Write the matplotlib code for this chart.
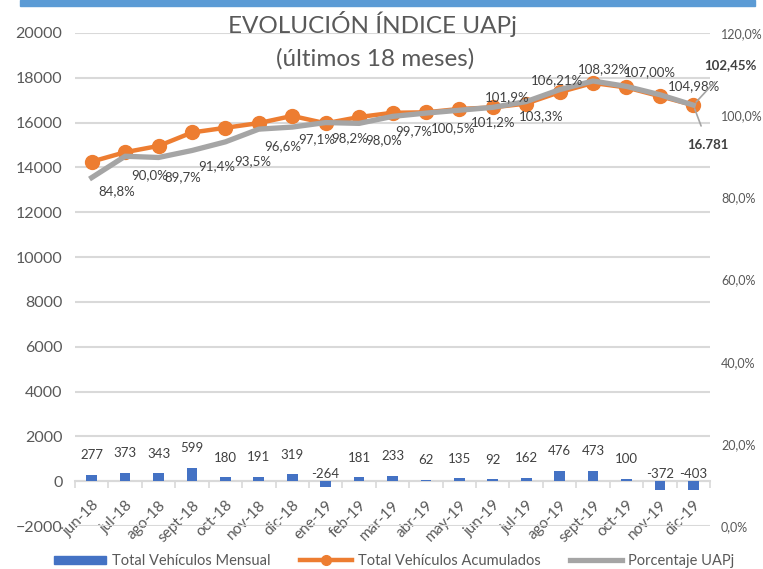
import matplotlib
matplotlib.use('Agg')
import matplotlib.pyplot as plt
from matplotlib.patches import Rectangle
from matplotlib.lines import Line2D
from matplotlib.ticker import FuncFormatter, FixedLocator

plt.rcParams['font.family'] = ['Lato', 'DejaVu Sans']

# Data
months = ['jun-18', 'jul-18', 'ago-18', 'sept-18', 'oct-18', 'nov-18', 'dic-18',
          'ene-19', 'feb-19', 'mar-19', 'abr-19', 'may-19', 'jun-19', 'jul-19',
          'ago-19', 'sept-19', 'oct-19', 'nov-19', 'dic-19']
monthly = [277, 373, 343, 599, 180, 191, 319, -264, 181, 233, 62, 135, 92, 162,
           476, 473, 100, -372, -403]
cumulative = [14260, 14680, 14960, 15560, 15770, 15980, 16300, 15970, 16250,
              16440, 16460, 16610, 16680, 16850, 17360, 17770, 17570, 17180, 16781]
pct = [84.8, 90.0, 89.7, 91.4, 93.5, 96.6, 97.1, 98.2, 98.0, 99.7, 100.5, 101.2,
       101.9, 103.3, 106.21, 108.32, 107.00, 104.98, 102.45]
pct_labels = ['84,8%', '90,0%', '89,7%', '91,4%', '93,5%', '96,6%', '97,1%', '98,2%',
              '98,0%', '99,7%', '100,5%', '101,2%', '101,9%', '103,3%', '106,21%',
              '108,32%', '107,00%', '104,98%', '102,45%']

# label offsets in pixels (dx right, dy down) for the percentage labels
pct_offsets = [(25, 14), (24, 19), (24, 20), (25, 16), (27, 19), (24, 17), (24, 12),
               (24, 16), (25, 17), (21, 15), (27, 15), (34, 12), (14, -10), (15, 15),
               (-3, -9), (11, -12), (23, -14), (34, -9), (37, -40)]

BLUE = '#4472C4'
ORANGE = '#ED7D31'
GRAY = '#A5A5A5'
TXT = '#595959'
GRID = '#D9D9D9'
PX = 0.72  # points per pixel at dpi 100

fig = plt.figure(figsize=(7.63, 5.69), dpi=100)
ax = fig.add_axes([75 / 763, 1 - 526 / 569, 635 / 763, 493 / 569])
ax2 = ax.twinx()

x = list(range(len(months)))

ax.bar(x, monthly, width=0.32, color=BLUE, zorder=3)
ax.plot(x, cumulative, color=ORANGE, lw=3.2, marker='o', ms=10, zorder=4)
ax2.plot(x, [p / 100 for p in pct], color=GRAY, lw=3.8, zorder=5)

ax.set_xlim(-0.5, len(months) - 0.5)
ax.set_ylim(-2000, 20000)
ax.set_yticks(range(-2000, 20001, 2000))
ax2.set_ylim(0, 1.2)
ax2.set_yticks([0, 0.2, 0.4, 0.6, 0.8, 1.0, 1.2])
ax2.yaxis.set_major_formatter(FuncFormatter(lambda v, p: f'{v * 100:.1f}%'.replace('.', ',')))

ax.grid(axis='y', color=GRID, lw=1.5, zorder=0)
for a in (ax, ax2):
    for s in ('top', 'left', 'right', 'bottom'):
        a.spines[s].set_visible(False)
ax.spines['bottom'].set_visible(True)
ax.spines['bottom'].set_position(('data', 0))
ax.spines['bottom'].set_color(GRID)
ax.spines['bottom'].set_linewidth(1.5)

ax.tick_params(axis='y', length=0, labelsize=11.5, labelcolor=TXT, pad=9)
ax2.tick_params(axis='y', length=0, labelsize=9, labelcolor=TXT, pad=8)

ax.set_xticks(x)
ax.set_xticklabels(months, rotation=45, ha='right', rotation_mode='anchor')
ax.tick_params(axis='x', which='major', length=0, labelsize=11, labelcolor=TXT, pad=12)
ax.xaxis.set_minor_locator(FixedLocator([i - 0.5 for i in range(len(months) + 1)]))
ax.tick_params(axis='x', which='minor', length=5, width=1.2, color=GRID)

# bar labels
for i, v in enumerate(monthly):
    if v >= 0:
        ax.annotate(str(v), (i, v), xytext=(0, 19.5 * PX), textcoords='offset points',
                    ha='center', va='center', fontsize=9.5, color='#404040', zorder=6)
    else:
        ax.annotate(str(v), (i, 0), xytext=(0, 7 * PX), textcoords='offset points',
                    ha='center', va='center', fontsize=9.5, color='#404040', zorder=6)

# percentage labels
for i, (p, lab) in enumerate(zip(pct, pct_labels)):
    dx, dy = pct_offsets[i]
    last = i == len(pct) - 1
    ax2.annotate(lab, (i, p / 100), xytext=(dx * PX, -dy * PX), textcoords='offset points',
                 ha='center', va='center', fontsize=9.5,
                 color='#404040', fontweight='bold' if last else 'normal', zorder=7,
                 arrowprops=dict(arrowstyle='-', color=GRAY, lw=1.2, shrinkA=8, shrinkB=3) if last else None)

# last cumulative value label
ax.annotate('16.781', (len(months) - 1, cumulative[-1]), xytext=(15 * PX, -40 * PX),
            textcoords='offset points', ha='center', va='center', fontsize=9.5,
            fontweight='bold', color='#404040', zorder=7,
            arrowprops=dict(arrowstyle='-', color=GRAY, lw=1.2, shrinkA=8, shrinkB=3))

ax.set_zorder(ax2.get_zorder() - 1)
ax.patch.set_visible(False)

# title
fig.text(372 / 763, 1 - 24 / 569, 'EVOLUCIÓN ÍNDICE UAPj', ha='center', va='center',
         fontsize=17.5, color=TXT)
fig.text(375 / 763, 1 - 59 / 569, '(últimos 18 meses)', ha='center', va='center',
         fontsize=17.5, color=TXT)

# top blue band
fig.patches.append(Rectangle((20 / 763, 1 - 6 / 569), 735 / 763, 6 / 569,
                             transform=fig.transFigure, color='#5B9BD5', zorder=0))

handles = [Rectangle((0, 0), 1, 1, color=BLUE),
           Line2D([], [], color=ORANGE, lw=3.2, marker='o', ms=7),
           Line2D([], [], color=GRAY, lw=3.8)]
fig.legend(handles, ['Total Vehículos Mensual', 'Total Vehículos Acumulados', 'Porcentaje UAPj'],
           loc='center', bbox_to_anchor=(394 / 763, 1 - 561 / 569), ncol=3, frameon=False,
           fontsize=10.5, handlelength=3.6, handleheight=0.5, columnspacing=2.0,
           handletextpad=0.4, labelcolor=TXT)

fig.savefig('out.png', dpi=100)
